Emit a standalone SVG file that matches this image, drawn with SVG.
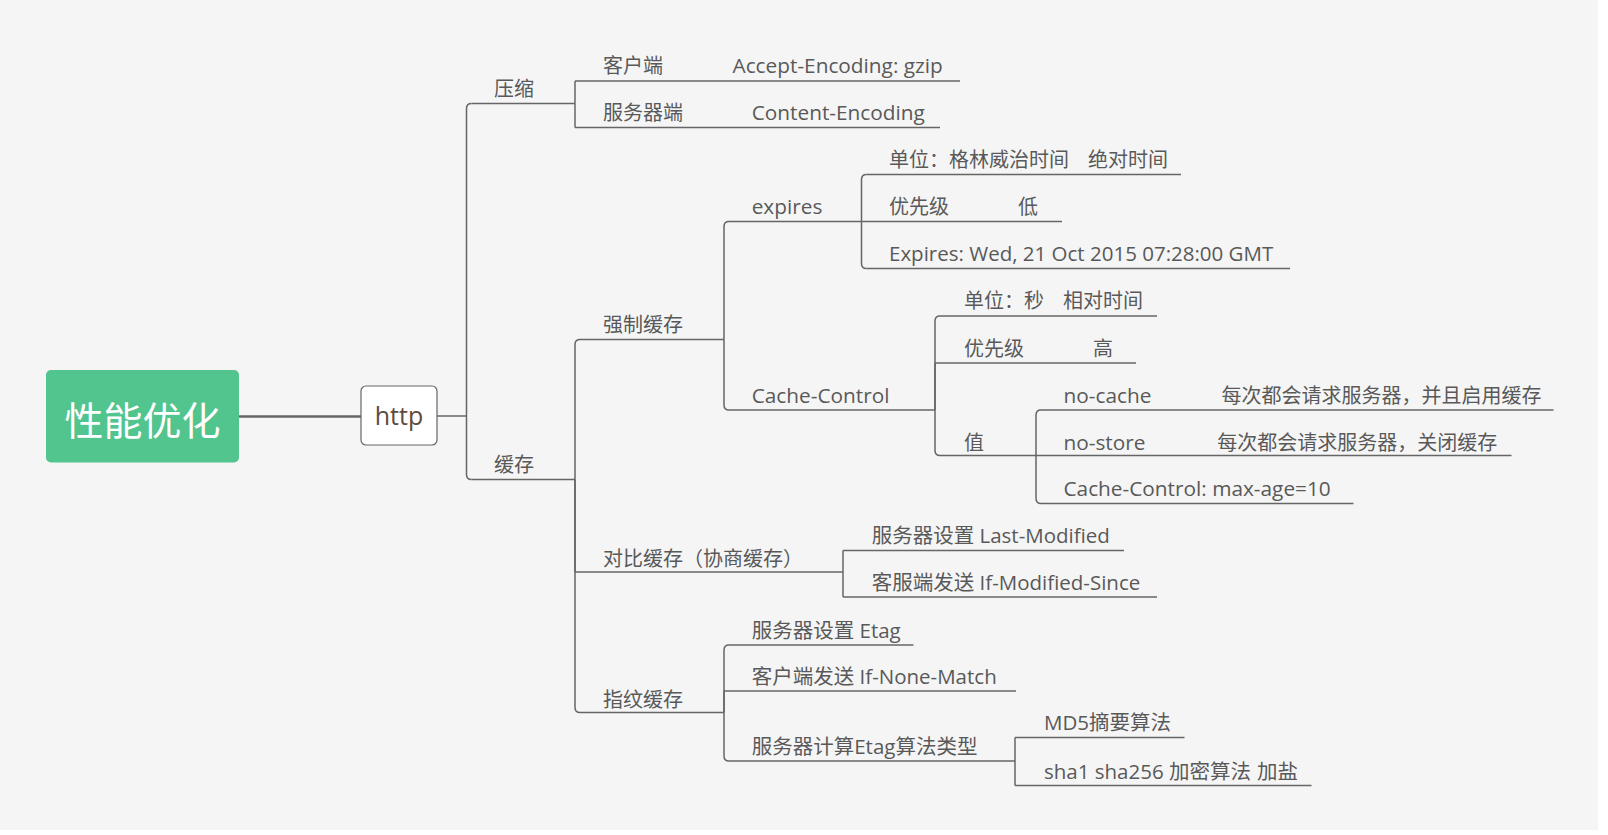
<svg xmlns="http://www.w3.org/2000/svg" width="1608" height="835" viewBox="0 0 1608 835">
<style>
.t{font-family:"Open Sans","Noto Sans CJK SC",sans-serif;font-size:20.5px;fill:#595959}
.z{font-size:20px}
.l{font-size:20.8px}
.u{stroke:#666;stroke-width:1.5;fill:none}
.c{stroke:#666;stroke-width:1.5;fill:none}
</style>
<rect x="0" y="0" width="1608" height="835" fill="#ffffff"/>
<rect x="0" y="0" width="1598" height="830" fill="#f5f5f5"/>
<g id="connectors">
<path d="M239 416.5H361" stroke="#666" stroke-width="2.5" fill="none"/>
<path class="c" d="M437 416H466.5"/>
<path class="c" d="M466.5 416V108.5Q466.5 103.5 471.5 103.5"/>
<path class="c" d="M466.5 416V474.5Q466.5 479.5 471.5 479.5"/>
<path class="c" d="M575 103.5V81"/>
<path class="c" d="M575 103.5V127.5"/>
<path class="c" d="M575 479.5V344.5Q575 339.5 580 339.5"/>
<path class="c" d="M575 479.5V572"/>
<path class="c" d="M575 479.5V707.5Q575 712.5 580 712.5"/>
<path class="c" d="M724 339.5V226.5Q724 221.5 729 221.5"/>
<path class="c" d="M724 339.5V405Q724 410 729 410"/>
<path class="c" d="M861.5 221.5V179.5Q861.5 174.5 866.5 174.5"/>
<path class="c" d="M861.5 221.5V263.5Q861.5 268.5 866.5 268.5"/>
<path class="c" d="M935 410V321Q935 316 940 316"/>
<path class="c" d="M935 410V363"/>
<path class="c" d="M935 410V450.5Q935 455.5 940 455.5"/>
<path class="c" d="M1036 455.5V415Q1036 410 1041 410"/>
<path class="c" d="M1036 455.5V498.5Q1036 503.5 1041 503.5"/>
<path class="c" d="M843 572V550.5"/>
<path class="c" d="M843 572V597"/>
<path class="c" d="M724 712.5V650Q724 645 729 645"/>
<path class="c" d="M724 712.5V691"/>
<path class="c" d="M724 712.5V756Q724 761 729 761"/>
<path class="c" d="M1015 761V737.5"/>
<path class="c" d="M1015 761V785.5"/>
</g>
<g id="root">
<rect x="46" y="370" width="193" height="92.5" rx="5" fill="#52c48e"/>
<text x="142.5" y="435" text-anchor="middle" font-family="'Noto Sans CJK SC',sans-serif" font-size="39" fill="#ffffff">性能优化</text>
</g>
<g id="http">
<rect x="361" y="386" width="76" height="59" rx="5" fill="#ffffff" stroke="#666" stroke-width="1.2"/>
<text x="399" y="425" text-anchor="middle" font-family="'Open Sans',sans-serif" font-size="25" fill="#5e4b3c">http</text>
</g>
<g id="yasuo"><path class="u" d="M471.5 103.5H575"/><text class="t z" x="494" y="95.5">压缩</text></g>
<g id="kehuduan"><path class="u" d="M575 81H960"/><text class="t z" x="603" y="73">客户端</text><text class="t l" x="732.5" y="73">Accept-Encoding: gzip</text></g>
<g id="fuwuqiduan"><path class="u" d="M575 127.5H940"/><text class="t z" x="603" y="119.5">服务器端</text><text class="t l" x="751.7" y="119.5">Content-Encoding</text></g>
<g id="huancun"><path class="u" d="M471.5 479.5H575"/><text class="t z" x="494" y="472">缓存</text></g>
<g id="qiangzhi"><path class="u" d="M580 339.5H724"/><text class="t z" x="603" y="331.5">强制缓存</text></g>
<g id="expires"><path class="u" d="M729 221.5H861.5"/><text class="t l" x="751.7" y="213.5">expires</text></g>
<g id="exp-unit"><path class="u" d="M866.5 174.5H1181"/><text class="t z" x="889" y="166.5">单位：格林威治时间<tspan x="1088">绝对时间</tspan></text></g>
<g id="exp-prio"><path class="u" d="M861.5 221.5H1062"/><text class="t z" x="889" y="213.5">优先级<tspan x="1018">低</tspan></text></g>
<g id="exp-example"><path class="u" d="M866.5 268.5H1290"/><text class="t" x="889" y="260.5">Expires: Wed, 21 Oct 2015 07:28:00 GMT</text></g>
<g id="cache-control"><path class="u" d="M729 410H935"/><text class="t l" x="751.7" y="402.5">Cache-Control</text></g>
<g id="cc-unit"><path class="u" d="M940 316H1157"/><text class="t z" x="964" y="308">单位：秒<tspan x="1063">相对时间</tspan></text></g>
<g id="cc-prio"><path class="u" d="M935 363H1136"/><text class="t z" x="964" y="355.5">优先级<tspan x="1093">高</tspan></text></g>
<g id="cc-value"><path class="u" d="M940 455.5H1036"/><text class="t z" x="964" y="449.5">值</text></g>
<g id="no-cache"><path class="u" d="M1041 410H1553.5"/><text class="t l" x="1063.5" y="403">no-cache<tspan class="z" x="1221.4">每次都会请求服务器，并且启用缓存</tspan></text></g>
<g id="no-store"><path class="u" d="M1036 455.5H1511.5"/><text class="t l" x="1063.5" y="449.5">no-store<tspan class="z" x="1217.3">每次都会请求服务器，关闭缓存</tspan></text></g>
<g id="max-age"><path class="u" d="M1041 503.5H1353.5"/><text class="t l" x="1063.5" y="496">Cache-Control: max-age=10</text></g>
<g id="duibi"><path class="u" d="M575 572H843"/><text class="t z" x="603" y="566">对比缓存（协商缓存）</text></g>
<g id="last-modified"><path class="u" d="M843 550.5H1124"/><text class="t" x="871.7" y="543">服务器设置 Last-Modified</text></g>
<g id="if-modified-since"><path class="u" d="M843 597H1157"/><text class="t" x="871.7" y="590">客服端发送 If-Modified-Since</text></g>
<g id="zhiwen"><path class="u" d="M580 712.5H724"/><text class="t z" x="603" y="706.5">指纹缓存</text></g>
<g id="etag"><path class="u" d="M729 645H913.5"/><text class="t" x="751.7" y="637.5">服务器设置 Etag</text></g>
<g id="if-none-match"><path class="u" d="M724 691H1016"/><text class="t" x="751.7" y="684">客户端发送 If-None-Match</text></g>
<g id="etag-algo"><path class="u" d="M729 761H1015"/><text class="t" x="751.7" y="754">服务器计算Etag算法类型</text></g>
<g id="md5"><path class="u" d="M1015 737.5H1184.5"/><text class="t" x="1044" y="730">MD5摘要算法</text></g>
<g id="sha"><path class="u" d="M1015 785.5H1311.5"/><text class="t" x="1044" y="778.5">sha1 sha256 加密算法<tspan x="1257">加盐</tspan></text></g>
</svg>
